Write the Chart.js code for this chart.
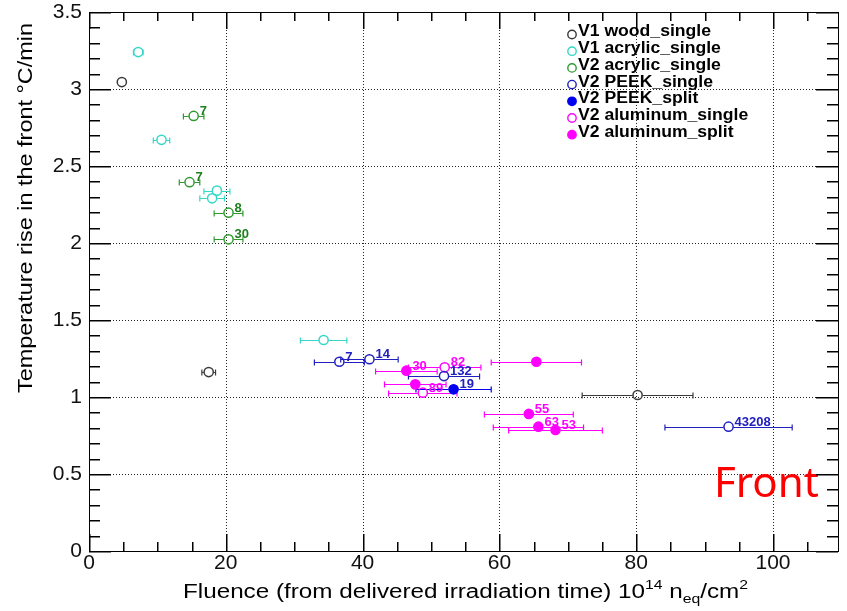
<!DOCTYPE html>
<html>
<head>
<meta charset="utf-8">
<script src="https://cdn.jsdelivr.net/npm/chart.js@4.4.0/dist/chart.umd.min.js"></script>
<style>
html, body { margin: 0; padding: 0; background: #fff; }
canvas { display: block; }
</style>
</head>
<body>
<canvas id="myChart" width="847" height="611"></canvas>
<script>
// fluence (10^14 neq/cm2), temperature rise (C/min), fluence error, run label
var woodX = [4.8, 17.5, 80.2];
var woodY = [3.045, 1.162, 1.013];
var woodErr = [0, 1.0, 8.1];
var woodTags = ['', '', ''];

var acrylic1X = [7.2, 10.6, 18.7, 18.0, 34.3];
var acrylic1Y = [3.24, 2.67, 2.34, 2.29, 1.37];
var acrylic1Err = [0.7, 1.2, 1.9, 1.8, 3.4];
var acrylic1Tags = ['', '', '', '', ''];

var acrylic2X = [15.3, 14.7, 20.4, 20.4];
var acrylic2Y = [2.825, 2.395, 2.197, 2.024];
var acrylic2Err = [1.5, 1.5, 2.1, 2.1];
var acrylic2Tags = ['7', '7', '8', '30'];

var peekSingleX = [36.6, 41.0, 51.9, 93.5];
var peekSingleY = [1.229, 1.245, 1.136, 0.807];
var peekSingleErr = [3.65, 4.2, 5.2, 9.3];
var peekSingleTags = ['7', '14', '132', '43208'];

var peekSplitX = [53.3];
var peekSplitY = [1.05];
var peekSplitErr = [5.5];
var peekSplitTags = ['19'];

var aluSingleX = [52.0, 48.8];
var aluSingleY = [1.193, 1.028];
var aluSingleErr = [5.3, 5.0];
var aluSingleTags = ['82', '89'];

var aluSplitX = [46.4, 47.7, 65.4, 64.3, 65.7, 68.2];
var aluSplitY = [1.171, 1.082, 1.229, 0.89, 0.807, 0.786];
var aluSplitErr = [4.5, 4.5, 6.6, 6.5, 6.6, 6.85];
var aluSplitTags = ['30', '', '', '55', '63', '53'];

var xTicks = [0, 20, 40, 60, 80, 100];
var yTicks = [0, 0.5, 1, 1.5, 2, 2.5, 3, 3.5];
var xMinorStep = 5;
var yMinorStep = 0.1;

var X_MAX = 109.5;
var Y_MAX = 3.5;

function series(label, xs, ys, errs, tags, color, filled, tagColor) {
    var pts = [];
    for (var i = 0; i < xs.length; i++) pts.push({ x: xs[i], y: ys[i] });
    return {
        label: label,
        data: pts,
        xErr: errs,
        tags: tags,
        tagColor: tagColor || color,
        filled: filled,
        borderColor: color,
        backgroundColor: filled ? color : 'rgba(0,0,0,0)',
        pointRadius: 4.6,
        pointBorderWidth: 1.5,
        pointStyle: 'circle'
    };
}

var datasets = [
    series('V1 wood_single', woodX, woodY, woodErr, woodTags, '#3a3a3a', false),
    series('V1 acrylic_single', acrylic1X, acrylic1Y, acrylic1Err, acrylic1Tags, '#33d8c8', false),
    series('V2 acrylic_single', acrylic2X, acrylic2Y, acrylic2Err, acrylic2Tags, '#2e9a2e', false, '#1e7f1e'),
    series('V2 PEEK_single', peekSingleX, peekSingleY, peekSingleErr, peekSingleTags, '#2020c0', false),
    series('V2 PEEK_split', peekSplitX, peekSplitY, peekSplitErr, peekSplitTags, '#0000f0', true, '#2020c0'),
    series('V2 aluminum_single', aluSingleX, aluSingleY, aluSingleErr, aluSingleTags, '#ff00ff', false),
    series('V2 aluminum_split', aluSplitX, aluSplitY, aluSplitErr, aluSplitTags, '#ff00ff', true)
];

function line(ctx, x0, y0, x1, y1) {
    ctx.beginPath();
    ctx.moveTo(x0, y0);
    ctx.lineTo(x1, y1);
    ctx.stroke();
}

// dotted grid under the markers
var gridPlugin = {
    id: 'dottedGrid',
    beforeDatasetsDraw: function(chart) {
        var ctx = chart.ctx, a = chart.chartArea;
        var xs = chart.scales.x, ys = chart.scales.y;
        ctx.save();
        ctx.strokeStyle = '#222';
        ctx.lineWidth = 1;
        ctx.setLineDash([1, 2]);
        xTicks.forEach(function(v) {
            if (v <= 0) return;
            var px = Math.round(xs.getPixelForValue(v)) + 0.5;
            line(ctx, px, a.top, px, a.bottom);
        });
        yTicks.forEach(function(v) {
            if (v <= 0 || v >= Y_MAX) return;
            var py = Math.round(ys.getPixelForValue(v)) + 0.5;
            line(ctx, a.left, py, a.right, py);
        });
        ctx.restore();
    }
};

// frame and inward ticks on all four sides
var framePlugin = {
    id: 'frame',
    afterDraw: function(chart) {
        var ctx = chart.ctx, a = chart.chartArea;
        var xs = chart.scales.x, ys = chart.scales.y;
        var L = Math.round(a.left), R = Math.round(a.right);
        var T = Math.round(a.top), B = Math.round(a.bottom);
        ctx.save();
        ctx.fillStyle = '#000';
        var nx = Math.floor(X_MAX / xMinorStep);
        for (var i = 0; i <= nx; i++) {
            var px = Math.round(xs.getPixelForValue(i * xMinorStep));
            var len = (i % 4 === 0) ? 17 : 9;
            ctx.fillRect(px, B - len, 1.5, len);
            ctx.fillRect(px, T, 1.5, len);
        }
        var ny = Math.round(Y_MAX / yMinorStep);
        for (var k = 0; k <= ny; k++) {
            var py = Math.round(ys.getPixelForValue(k * yMinorStep));
            var l = (k % 5 === 0) ? 22 : 11;
            ctx.fillRect(L, py, l, 1.5);
            ctx.fillRect(R - l, py, l, 1.5);
        }
        ctx.fillRect(L, T, R - L + 1, 1);
        ctx.fillRect(L, B, R - L + 1, 1);
        ctx.fillRect(L, T, 1, B - T + 1);
        ctx.fillRect(R, T, 1, B - T + 1);
        ctx.restore();
    }
};

// horizontal error bars with end caps, not drawn inside the marker
var errorBars = {
    id: 'errorBars',
    beforeDatasetsDraw: function(chart) {
        var ctx = chart.ctx, xs = chart.scales.x;
        chart.data.datasets.forEach(function(ds, i) {
            var meta = chart.getDatasetMeta(i);
            ctx.save();
            ctx.strokeStyle = ds.borderColor;
            ctx.lineWidth = 1.2;
            meta.data.forEach(function(pt, j) {
                var e = ds.xErr[j];
                if (!e) return;
                var p = ds.data[j];
                var x0 = xs.getPixelForValue(p.x - e);
                var x1 = xs.getPixelForValue(p.x + e);
                var y = Math.round(pt.y) + 0.5, r = 5;
                ctx.beginPath();
                ctx.moveTo(x0, y); ctx.lineTo(pt.x - r, y);
                ctx.moveTo(pt.x + r, y); ctx.lineTo(x1, y);
                ctx.moveTo(x0, y - 3); ctx.lineTo(x0, y + 3);
                ctx.moveTo(x1, y - 3); ctx.lineTo(x1, y + 3);
                ctx.stroke();
            });
            ctx.restore();
        });
    }
};

// run labels next to markers, legend, axis titles, "Front" tag
var textPlugin = {
    id: 'texts',
    afterDatasetsDraw: function(chart) {
        var ctx = chart.ctx;
        ctx.save();
        ctx.font = 'bold 13px "Liberation Sans", Arial, sans-serif';
        ctx.textBaseline = 'middle';
        ctx.textAlign = 'left';
        chart.data.datasets.forEach(function(ds, i) {
            var meta = chart.getDatasetMeta(i);
            ctx.fillStyle = ds.tagColor;
            meta.data.forEach(function(pt, j) {
                if (ds.tags[j]) ctx.fillText(ds.tags[j], pt.x + 6, pt.y - 4.5);
            });
        });

        // legend
        var lx = 572, ly = 32, step = 16.7;
        chart.data.datasets.forEach(function(ds, i) {
            var y = ly + i * step;
            ctx.beginPath();
            ctx.arc(lx, y + 2.5, 4.2, 0, Math.PI * 2);
            ctx.lineWidth = 1.4;
            ctx.strokeStyle = ds.borderColor;
            if (ds.filled) { ctx.fillStyle = ds.borderColor; ctx.fill(); }
            ctx.stroke();
            ctx.fillStyle = '#000';
            ctx.font = 'bold 16px "Liberation Sans", Arial, sans-serif';
            ctx.textBaseline = 'middle';
            ctx.save();
            ctx.translate(lx + 6, y);
            ctx.scale(1.1, 1);
            ctx.fillText(ds.label, 0, 0);
            ctx.restore();
        });

        // y title, aligned to the top of the axis
        var yTitle = 'Temperature rise in the front \u00b0C/min';
        ctx.font = '21px "Liberation Sans", Arial, sans-serif';
        ctx.fillStyle = '#000';
        ctx.textBaseline = 'alphabetic';
        ctx.textAlign = 'right';
        var w = ctx.measureText(yTitle).width;
        ctx.save();
        ctx.translate(32, 23);
        ctx.rotate(-Math.PI / 2);
        ctx.scale(370 / w, 1);
        ctx.fillText(yTitle, 0, 0);
        ctx.restore();

        // x title with super/subscripts
        var parts = [
            { t: 'Fluence (from delivered irradiation time) 10', s: 20, dy: 0 },
            { t: '14', s: 13, dy: -9 },
            { t: ' n', s: 20, dy: 0 },
            { t: 'eq', s: 13, dy: 5 },
            { t: '/cm', s: 20, dy: 0 },
            { t: '2', s: 13, dy: -9 }
        ];
        ctx.textAlign = 'left';
        var total = 0;
        parts.forEach(function(p) {
            ctx.font = p.s + 'px "Liberation Sans", Arial, sans-serif';
            p.w = ctx.measureText(p.t).width;
            total += p.w;
        });
        ctx.save();
        ctx.translate(183, 598);
        ctx.scale(565 / total, 1);
        var cx = 0;
        parts.forEach(function(p) {
            ctx.font = p.s + 'px "Liberation Sans", Arial, sans-serif';
            ctx.fillText(p.t, cx, p.dy);
            cx += p.w;
        });
        ctx.restore();

        ctx.fillStyle = '#ff0000';
        ctx.font = '42px "Noto Sans", sans-serif';
        ctx.fillText('Front', 714, 497);
        ctx.restore();
    }
};

var myChart = new Chart(document.getElementById('myChart').getContext('2d'), {
    type: 'scatter',
    data: { datasets: datasets },
    options: {
        responsive: false,
        animation: false,
        layout: { padding: { left: 0, top: 12, right: 9, bottom: 0 } },
        plugins: { legend: { display: false }, tooltip: { enabled: false } },
        scales: {
            x: {
                type: 'linear',
                min: 0,
                max: X_MAX,
                afterFit: function(scale) {
                    scale.height = 60;
                    scale.paddingLeft = 0;
                    scale.paddingRight = 0;
                },
                afterBuildTicks: function(scale) {
                    scale.ticks = xTicks.map(function(v) { return { value: v }; });
                },
                ticks: {
                    color: '#111',
                    padding: 0,
                    font: { family: '"Liberation Sans", Arial, sans-serif', size: 21 },
                    maxRotation: 0,
                    autoSkip: false
                },
                grid: { display: false, drawTicks: false },
                border: { display: false }
            },
            y: {
                type: 'linear',
                min: 0,
                max: Y_MAX,
                afterFit: function(scale) {
                    scale.width = 89;
                    scale.paddingTop = 0;
                    scale.paddingBottom = 0;
                },
                afterBuildTicks: function(scale) {
                    scale.ticks = yTicks.map(function(v) { return { value: v }; });
                },
                ticks: {
                    color: '#111',
                    padding: 7,
                    font: { family: '"Liberation Sans", Arial, sans-serif', size: 21 },
                    callback: function(v) { return String(Math.round(v * 10) / 10); }
                },
                grid: { display: false, drawTicks: false },
                border: { display: false }
            }
        }
    },
    plugins: [gridPlugin, errorBars, framePlugin, textPlugin]
});
</script>
</body>
</html>
